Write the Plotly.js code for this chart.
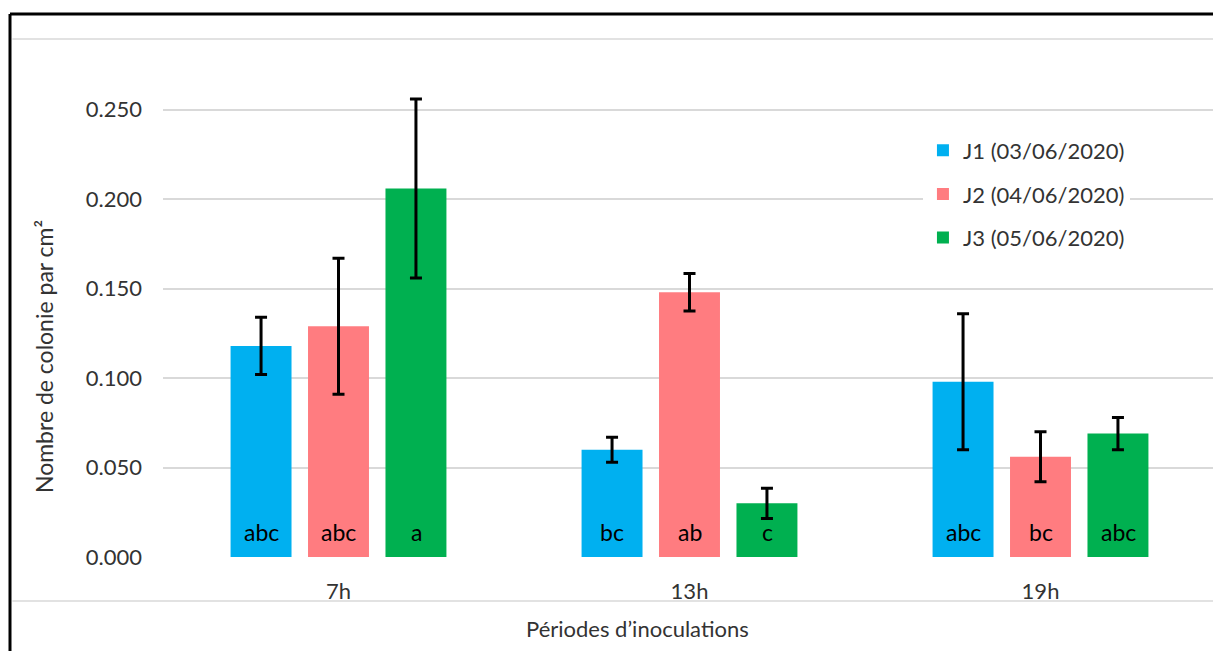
<!DOCTYPE html>
<html>
<head>
<meta charset="utf-8">
<script src="https://cdn.plot.ly/plotly-3.0.1.min.js"></script>
<style>
html,body{margin:0;padding:0;overflow:hidden;background:#fff;}
#chart{width:1230px;height:651px;}
</style>
</head>
<body>
<div id="chart"></div>
<script>
// ---- data ----
const categories = ['7h', '13h', '19h'];
const seriesNames = ['J1 (03/06/2020)', 'J2 (04/06/2020)', 'J3 (05/06/2020)'];
const j1 = [0.118, 0.060, 0.098];
const j2 = [0.129, 0.148, 0.056];
const j3 = [0.206, 0.030, 0.069];
const j1err = [0.016, 0.007, 0.038];
const j2err = [0.038, 0.0105, 0.014];
const j3err = [0.050, 0.0085, 0.009];
const j1letters = ['abc', 'bc', 'abc'];
const j2letters = ['abc', 'ab', 'bc'];
const j3letters = ['a', 'c', 'abc'];
const yTitle = 'Nombre de colonie par cm²';
const xTitle = 'Périodes d\u2019inoculations';

// ---- styles ----
const colors = ['#00B0F0', '#FF7C80', '#00B050'];
const FONT = 'Lato, "Open Sans", sans-serif';
const TXT = '#333333';

const values = [j1, j2, j3];
const errs = [j1err, j2err, j3err];
const letters = [j1letters, j2letters, j3letters];

const traces = values.map((v, i) => ({
  type: 'bar',
  name: seriesNames[i],
  x: categories,
  y: v,
  marker: {color: colors[i]},
  error_y: {type: 'data', array: errs[i], visible: true, color: '#000', thickness: 3, width: 6},
  legendgroup: 'g' + i,
  hoverinfo: 'x+y+name'
}));

// letter annotations at bar bases
const slotShift = [-77.5, 0, 77.5];
const annotations = [];
letters.forEach((arr, i) => {
  arr.forEach((t, k) => {
    annotations.push({
      x: categories[k], y: 0, xref: 'x', yref: 'y',
      text: t, showarrow: false, xshift: slotShift[i], yshift: 9,
      xanchor: 'center', yanchor: 'bottom', font: {family: FONT, size: 23, color: '#000'}
    });
  });
});
annotations.push({
  xref: 'paper', yref: 'paper', x: -0.113, y: 0.414, text: yTitle,
  xanchor: 'center', yanchor: 'middle',
  textangle: -90, showarrow: false, font: {family: FONT, size: 23, color: TXT}
});
annotations.push({
  xref: 'paper', yref: 'paper', x: 0.4506, y: -0.147, text: xTitle,
  xanchor: 'center', yanchor: 'middle',
  showarrow: false, font: {family: FONT, size: 22, color: TXT}
});

const layout = {
  width: 1230, height: 651,
  margin: {l: 163, r: 14, t: 74, b: 94},
  paper_bgcolor: '#fff', plot_bgcolor: '#fff',
  barmode: 'group', bargap: 0.338, bargroupgap: 0.213,
  font: {family: FONT, size: 22, color: TXT},
  showlegend: true,
  legend: {
    x: 0.7217, y: 0.885, xanchor: 'left', yanchor: 'top',
    bgcolor: '#fff', font: {family: FONT, size: 22, color: TXT},
    traceorder: 'grouped', tracegroupgap: 12
  },
  xaxis: {
    showgrid: false, zeroline: false, showline: false, ticks: '',
    tickfont: {family: FONT, size: 22, color: TXT}, ticklabelstandoff: 19
  },
  yaxis: {
    range: [0, 0.27], dtick: 0.05, tick0: 0, tickformat: '.3f',
    showgrid: true, gridcolor: '#D9D9D9', gridwidth: 1.5,
    zeroline: false, showline: false, ticks: '',
    tickfont: {family: FONT, size: 22, color: TXT}, ticklabelstandoff: 20
  },
  shapes: [
    {type: 'line', xref: 'paper', yref: 'paper', x0: -0.1453, x1: 1.1, y0: 1.1242, y1: 1.1242, line: {color: '#000', width: 3}},
    {type: 'line', xref: 'paper', yref: 'paper', x0: -0.1453, x1: -0.1453, y0: 1.1242, y1: -0.4, line: {color: '#000', width: 3}},
    {type: 'line', xref: 'paper', yref: 'paper', x0: -0.143, x1: 1.1, y0: 1.0725, y1: 1.0725, line: {color: '#D9D9D9', width: 1.5}},
    {type: 'line', xref: 'paper', yref: 'paper', x0: -0.143, x1: 1.1, y0: -0.0911, y1: -0.0911, line: {color: '#D9D9D9', width: 1.5}}
  ],
  annotations: annotations
};

Plotly.newPlot('chart', traces, layout, {displayModeBar: false, responsive: false});
</script>
</body>
</html>
